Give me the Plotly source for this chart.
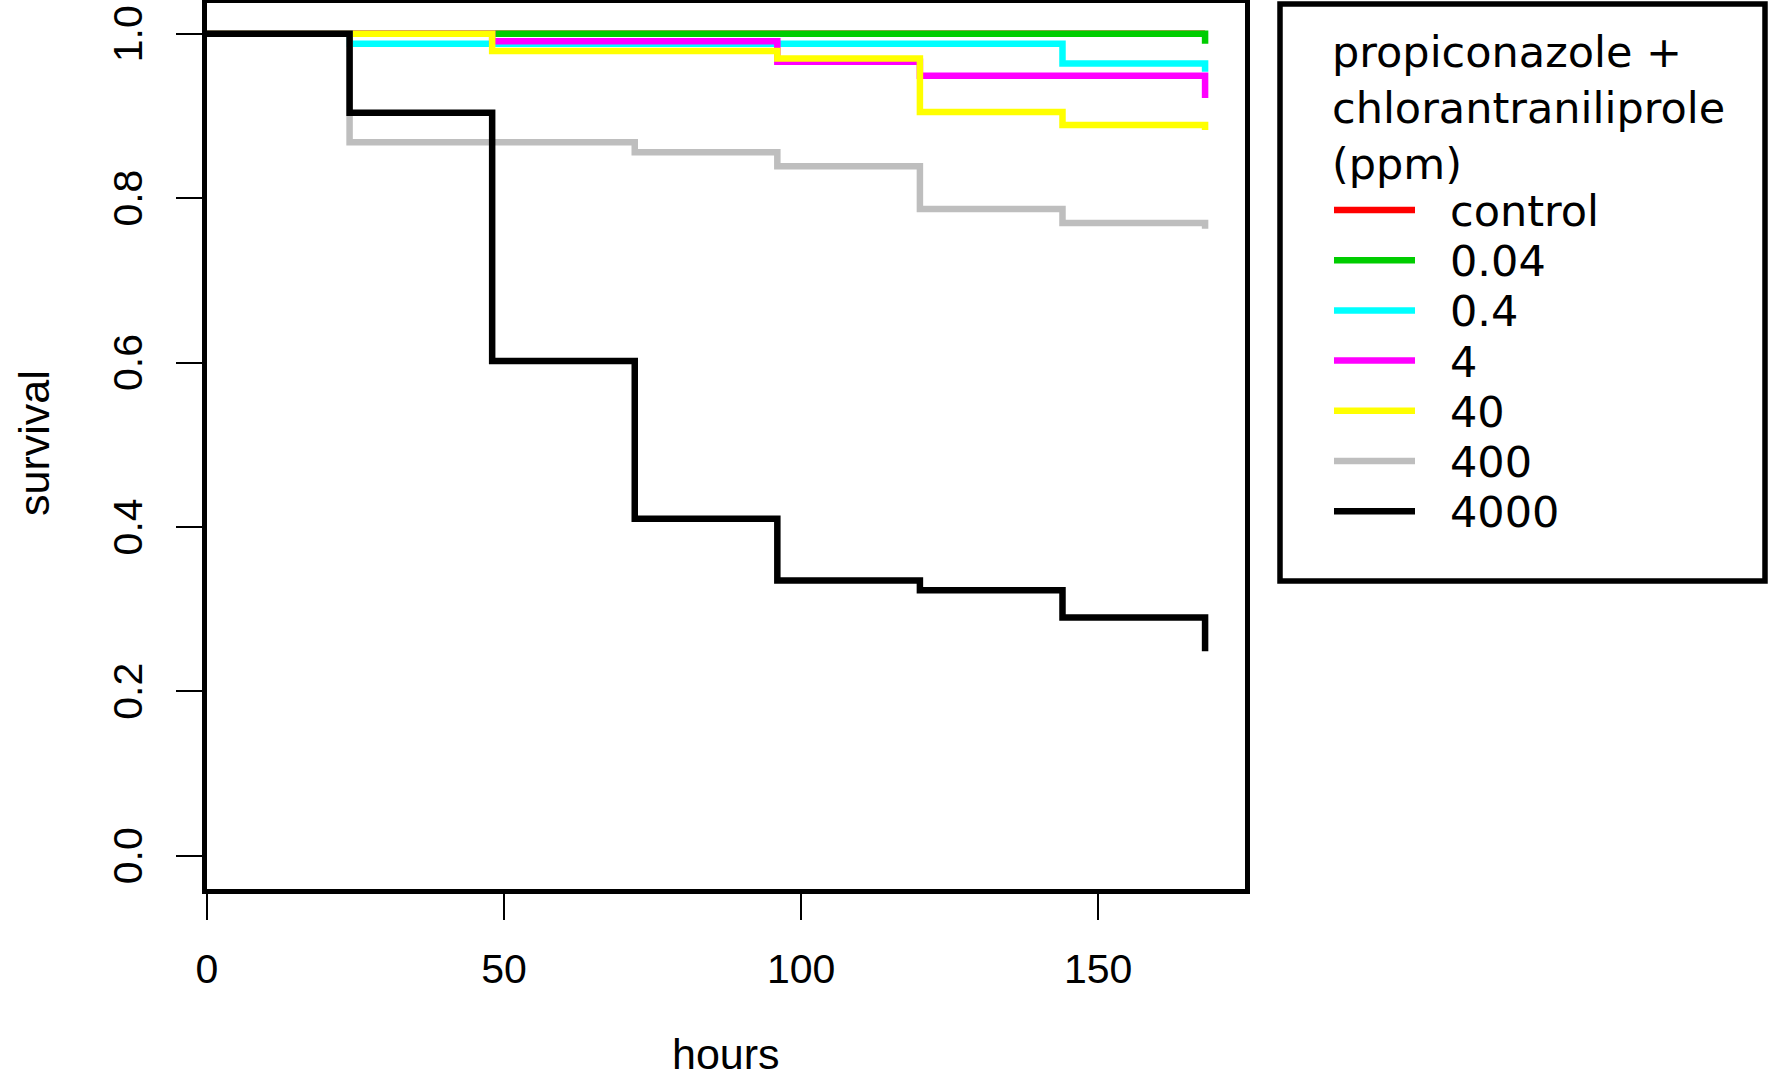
import plotly.graph_objects as go

# ---- data ----
hours = [0, 24, 48, 72, 96, 120, 144, 168]
dose_labels = ["control", "0.04", "0.4", "4", "40", "400", "4000"]
line_colors = ["#FF0000", "#00CD00", "#00FFFF", "#FF00FF", "#FFFF00", "#BEBEBE", "#000000"]

surv_control = [1.0, 1.0, 1.0, 1.0, 1.0, 1.0, 1.0, 1.0]
surv_004 = [1.0, 1.0, 1.0, 1.0, 1.0, 1.0, 1.0, 0.988]
surv_04 = [1.0, 0.988, 0.988, 0.988, 0.988, 0.988, 0.964, 0.954]
surv_4 = [1.0, 1.0, 0.991, 0.991, 0.966, 0.949, 0.949, 0.922]
surv_40 = [1.0, 1.0, 0.979, 0.979, 0.970, 0.905, 0.889, 0.883]
surv_400 = [1.0, 0.868, 0.868, 0.856, 0.839, 0.787, 0.770, 0.763]
surv_4000 = [1.0, 0.904, 0.602, 0.410, 0.335, 0.323, 0.290, 0.249]

series = [surv_control, surv_004, surv_04, surv_4, surv_40, surv_400, surv_4000]

x_ticks = [0, 50, 100, 150]
y_ticks = [0.0, 0.2, 0.4, 0.6, 0.8, 1.0]
y_tick_text = ["0.0", "0.2", "0.4", "0.6", "0.8", "1.0"]

legend_title = "propiconazole +<br>chlorantraniliprole<br>(ppm)"

# ---- figure geometry ----
W, H = 1768, 1080
ML, MR, MT, MB = 207, 523, 3, 191
PW = W - ML - MR
PH = H - MT - MB


def px2x(px):
    return (px - ML) / PW


def py2y(py):
    return (H - MB - py) / PH


AXFONT = "Liberation Sans, Arial, sans-serif"
LEGFONT = "DejaVu Sans, Verdana, sans-serif"

fig = go.Figure()
for name, col, ys in zip(dose_labels, line_colors, series):
    fig.add_trace(go.Scatter(
        x=hours, y=ys, mode="lines", name=name,
        line=dict(color=col, width=6.5, shape="hv"),
        showlegend=False,
    ))

shapes = []
annotations = []

# legend box
shapes.append(dict(type="rect", xref="paper", yref="paper",
                   x0=px2x(1280), x1=px2x(1765), y0=py2y(581), y1=py2y(4),
                   line=dict(color="black", width=5.5), fillcolor="rgba(0,0,0,0)"))
annotations.append(dict(xref="paper", yref="paper", x=px2x(1330), y=py2y(108),
                        xanchor="left", yanchor="middle", align="left",
                        text=legend_title, showarrow=False,
                        font=dict(family=LEGFONT, size=43, color="black")))
item_y0 = 210
item_dy = 50.2
for i, (name, col) in enumerate(zip(dose_labels, line_colors)):
    yy = item_y0 + i * item_dy
    shapes.append(dict(type="line", xref="paper", yref="paper",
                       x0=px2x(1334), x1=px2x(1415), y0=py2y(yy), y1=py2y(yy),
                       line=dict(color=col, width=6.5)))
    annotations.append(dict(xref="paper", yref="paper", x=px2x(1448), y=py2y(yy + 1),
                            xanchor="left", yanchor="middle", text=name, showarrow=False,
                            font=dict(family=LEGFONT, size=43, color="black")))

# axis titles
annotations.append(dict(xref="paper", yref="paper", x=0.5, y=py2y(1080),
                        xanchor="center", yanchor="bottom", text="hours", showarrow=False,
                        font=dict(family=AXFONT, size=43, color="black")))
annotations.append(dict(xref="paper", yref="paper", x=px2x(34), y=py2y(443),
                        xanchor="center", yanchor="middle", text="survival", showarrow=False,
                        textangle=-90,
                        font=dict(family=AXFONT, size=43, color="black")))

fig.update_layout(
    width=W, height=H,
    margin=dict(l=ML, r=MR, t=MT, b=MB, pad=0, autoexpand=False),
    paper_bgcolor="white", plot_bgcolor="white",
    showlegend=False,
    shapes=shapes,
    annotations=annotations,
    xaxis=dict(range=[0, 174.72], tickvals=x_ticks, ticktext=[str(v) for v in x_ticks],
               showgrid=False, zeroline=False, showline=True, mirror=True,
               linecolor="black", linewidth=5, ticks="outside", ticklen=26,
               tickwidth=2, tickcolor="black", ticklabelstandoff=14,
               ticklabeloverflow="allow", automargin=False,
               tickfont=dict(family=AXFONT, size=41, color="black")),
    yaxis=dict(range=[-0.0403, 1.0375], tickvals=y_ticks, ticktext=y_tick_text,
               showgrid=False, zeroline=False, showline=True, mirror=True,
               linecolor="black", linewidth=5, ticks="outside", ticklen=26,
               tickwidth=2, tickcolor="black", tickangle=-90, ticklabelstandoff=18,
               ticklabelshift=6,
               ticklabeloverflow="allow", automargin=False,
               tickfont=dict(family=AXFONT, size=41, color="black")),
)

fig.write_html("out.html",
               config={"displayModeBar": False},
               post_script="document.body.style.margin='0';document.body.style.overflow='hidden';")
